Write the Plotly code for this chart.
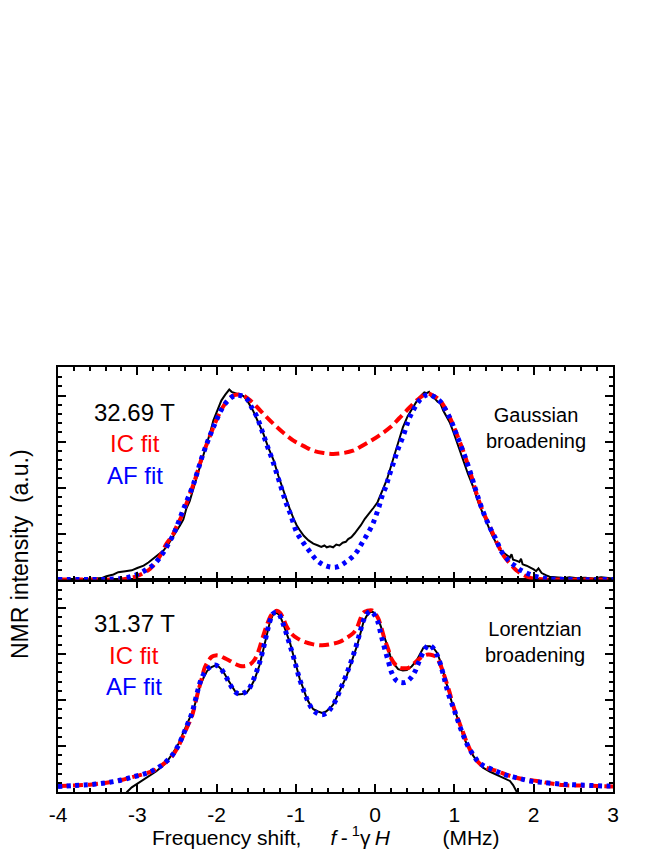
import plotly.graph_objects as go

# ---------------- data ----------------
# Top panel, 32.69 T (Gaussian broadening)
top_exp_x = [-4.00, -3.80, -3.60, -3.45, -3.39, -3.30, -3.24, -3.15, -3.07, -3.00, -2.92, -2.86, -2.80, -2.73,
             -2.67, -2.61, -2.55, -2.50, -2.46, -2.42, -2.38, -2.34, -2.29, -2.25, -2.21, -2.17, -2.12, -2.08,
             -2.04, -1.99, -1.94, -1.89, -1.86, -1.84, -1.81, -1.79, -1.74, -1.70, -1.66, -1.60, -1.54, -1.48,
             -1.41, -1.35, -1.28, -1.22, -1.16, -1.10, -1.07, -1.03, -0.99, -0.95, -0.90, -0.84, -0.78, -0.72,
             -0.68, -0.64, -0.61, -0.57, -0.53, -0.49, -0.45, -0.41, -0.37, -0.34, -0.30, -0.26, -0.23, -0.18,
             -0.13, -0.08, -0.02, 0.03, 0.06, 0.10, 0.15, 0.20, 0.25, 0.30, 0.35, 0.41, 0.48, 0.54, 0.59, 0.62,
             0.65, 0.68, 0.71, 0.75, 0.79, 0.82, 0.86, 0.90, 0.94, 0.98, 1.03, 1.07, 1.11, 1.17, 1.24, 1.30,
             1.36, 1.41, 1.47, 1.53, 1.58, 1.62, 1.66, 1.70, 1.72, 1.74, 1.78, 1.82, 1.84, 1.86, 1.91, 1.95,
             2.00, 2.03, 2.06, 2.10, 2.13, 2.16, 2.20, 2.25, 2.30, 2.38, 2.45, 2.55, 2.65, 2.75, 2.85, 2.95, 3.00]
top_exp_y = [0.00, 0.00, 0.01, 0.03, 0.07, 0.11, 0.16, 0.18, 0.20, 0.25, 0.30, 0.37, 0.45, 0.53,
             0.63, 0.76, 0.92, 1.07, 1.18, 1.30, 1.55, 1.70, 1.98, 2.20, 2.44, 2.68, 2.95, 3.20,
             3.46, 3.68, 3.89, 4.02, 4.08, 4.13, 4.08, 4.07, 4.04, 4.02, 3.99, 3.85, 3.67, 3.44,
             3.17, 2.88, 2.59, 2.25, 1.93, 1.64, 1.50, 1.33, 1.18, 1.07, 0.95, 0.85, 0.78, 0.74,
             0.71, 0.74, 0.70, 0.72, 0.70, 0.76, 0.74, 0.80, 0.82, 0.88, 0.92, 1.00, 1.06, 1.18,
             1.32, 1.42, 1.56, 1.68, 1.79, 1.97, 2.18, 2.45, 2.72, 3.00, 3.31, 3.55, 3.76, 3.92, 4.02, 4.07,
             4.05, 4.08, 3.98, 3.94, 3.86, 3.84, 3.67, 3.55, 3.42, 3.24, 2.98, 2.80, 2.59, 2.30, 2.00, 1.68,
             1.43, 1.21, 0.98, 0.78, 0.64, 0.58, 0.52, 0.48, 0.55, 0.43, 0.41, 0.38, 0.45, 0.33, 0.30, 0.27,
             0.22, 0.18, 0.24, 0.14, 0.11, 0.09, 0.06, 0.05, 0.04, 0.03, 0.05, 0.03, 0.04, 0.02, 0.05, 0.03, 0.02]

top_ic_x = [-4.00, -3.50, -3.22, -3.10, -3.01, -2.92, -2.84, -2.77, -2.71, -2.63, -2.55, -2.50, -2.44, -2.38,
            -2.29, -2.17, -2.10, -2.04, -1.98, -1.92, -1.85, -1.79, -1.72, -1.66, -1.58, -1.49, -1.38, -1.28,
            -1.15, -1.03, -0.90, -0.78, -0.65, -0.53, -0.40, -0.28, -0.19, -0.05, 0.05, 0.19, 0.30, 0.44,
            0.55, 0.65, 0.73, 0.82, 0.94, 1.02, 1.11, 1.20, 1.28, 1.36, 1.45, 1.53, 1.62, 1.70, 1.78, 1.86,
            1.95, 2.06, 2.20, 3.00]
top_ic_y = [0.00, 0.00, 0.00, 0.03, 0.07, 0.14, 0.23, 0.36, 0.52, 0.78, 0.98, 1.17, 1.38, 1.65,
            2.08, 2.73, 3.05, 3.31, 3.55, 3.75, 3.92, 4.00, 4.02, 4.00, 3.90, 3.75, 3.55, 3.38,
            3.18, 3.02, 2.90, 2.80, 2.75, 2.73, 2.75, 2.80, 2.88, 3.02, 3.13, 3.31, 3.50, 3.75,
            3.93, 4.04, 4.00, 3.89, 3.53, 3.20, 2.80, 2.33, 1.86, 1.48, 1.14, 0.82, 0.52, 0.35, 0.20, 0.11,
            0.04, 0.01, 0.00, 0.00]

top_af_x = [-4.00, -3.50, -3.28, -3.16, -3.03, -2.92, -2.79, -2.69, -2.62, -2.55, -2.50, -2.44, -2.39, -2.29,
            -2.17, -2.04, -1.92, -1.84, -1.77, -1.70, -1.62, -1.56, -1.49, -1.43, -1.37, -1.30, -1.24, -1.18,
            -1.12, -1.07, -0.99, -0.91, -0.83, -0.73, -0.61, -0.49, -0.37, -0.25, -0.17, -0.11, -0.04, 0.01,
            0.05, 0.09, 0.14, 0.17, 0.23, 0.29, 0.36, 0.42, 0.48, 0.54, 0.61, 0.67, 0.74, 0.82, 0.94, 1.02,
            1.11, 1.20, 1.28, 1.36, 1.45, 1.53, 1.59, 1.65, 1.70, 1.77, 1.83, 1.95, 2.06, 2.17, 2.40, 3.00]
top_af_y = [0.00, 0.00, 0.01, 0.03, 0.09, 0.18, 0.33, 0.54, 0.74, 0.96, 1.16, 1.43, 1.65, 2.08,
            2.73, 3.31, 3.75, 3.92, 4.00, 4.00, 3.93, 3.75, 3.53, 3.25, 2.95, 2.62, 2.30, 1.97,
            1.65, 1.43, 1.03, 0.81, 0.62, 0.41, 0.29, 0.27, 0.38, 0.56, 0.78, 0.95, 1.17, 1.39,
            1.59, 1.83, 2.04, 2.22, 2.53, 2.84, 3.15, 3.46, 3.68, 3.85, 3.98, 4.02, 3.98, 3.87, 3.52, 3.18,
            2.78, 2.33, 1.88, 1.48, 1.12, 0.85, 0.62, 0.48, 0.38, 0.29, 0.21, 0.11, 0.05, 0.02, 0.00, 0.00]

# Bottom panel, 31.37 T (Lorentzian broadening)
bot_exp_x = [-3.20, -3.13, -3.07, -3.01, -2.92, -2.84, -2.76, -2.67, -2.61, -2.55, -2.48, -2.42, -2.35, -2.29,
             -2.25, -2.21, -2.16, -2.12, -2.07, -2.02, -1.97, -1.92, -1.86, -1.81, -1.77, -1.73, -1.68, -1.62,
             -1.57, -1.52, -1.46, -1.41, -1.37, -1.33, -1.29, -1.26, -1.23, -1.20, -1.16, -1.12, -1.07, -1.03,
             -0.99, -0.95, -0.90, -0.86, -0.82, -0.78, -0.72, -0.67, -0.62, -0.57, -0.53, -0.49, -0.43, -0.36,
             -0.30, -0.23, -0.19, -0.15, -0.11, -0.07, -0.03, 0.02, 0.06, 0.10, 0.15, 0.19, 0.24, 0.29, 0.35,
             0.40, 0.46, 0.52, 0.57, 0.61, 0.65, 0.69, 0.74, 0.78, 0.82, 0.86, 0.90, 0.94, 0.98, 1.03, 1.07,
             1.11, 1.17, 1.24, 1.30, 1.36, 1.45, 1.53, 1.61, 1.70, 1.74, 1.78, 1.85]
bot_exp_y = [-0.15, 0.00, 0.10, 0.17, 0.26, 0.35, 0.45, 0.58, 0.70, 0.85, 1.05, 1.29, 1.55, 1.80,
             2.05, 2.30, 2.50, 2.63, 2.71, 2.75, 2.72, 2.63, 2.45, 2.30, 2.20, 2.12, 2.13, 2.16,
             2.28, 2.45, 2.75, 3.10, 3.40, 3.68, 3.85, 3.90, 3.88, 3.83, 3.66, 3.46, 3.22, 2.96,
             2.70, 2.45, 2.22, 2.02, 1.90, 1.80, 1.75, 1.72, 1.75, 1.82, 1.90, 2.05, 2.28, 2.52,
             2.82, 3.17, 3.42, 3.68, 3.82, 3.91, 3.92, 3.83, 3.66, 3.46, 3.20, 2.96, 2.78, 2.67, 2.64,
             2.65, 2.73, 2.85, 3.00, 3.14, 3.17, 3.17, 3.12, 3.03, 2.85, 2.59, 2.33, 2.09, 1.87, 1.65, 1.42,
             1.22, 0.99, 0.78, 0.64, 0.53, 0.44, 0.38, 0.31, 0.24, 0.15, 0.02, -0.15]

bot_ic_x = [-4.00, -3.81, -3.60, -3.39, -3.20, -3.05, -2.92, -2.80, -2.67, -2.60, -2.55, -2.48, -2.42, -2.36,
            -2.31, -2.27, -2.23, -2.19, -2.15, -2.10, -2.06, -2.01, -1.96, -1.90, -1.83, -1.76, -1.70, -1.64,
            -1.58, -1.52, -1.47, -1.42, -1.37, -1.32, -1.28, -1.24, -1.20, -1.16, -1.12, -1.06, -0.99, -0.90,
            -0.78, -0.67, -0.57, -0.44, -0.36, -0.28, -0.23, -0.19, -0.15, -0.10, -0.04, 0.00, 0.04, 0.08,
            0.12, 0.17, 0.21, 0.26, 0.31, 0.37, 0.42, 0.48, 0.54, 0.60, 0.67, 0.73, 0.78, 0.82, 0.86, 0.90,
            0.94, 0.98, 1.03, 1.07, 1.11, 1.17, 1.24, 1.30, 1.36, 1.45, 1.53, 1.65, 1.78, 1.90, 2.04, 2.20,
            2.37, 2.60, 2.80, 3.00]
bot_ic_y = [0.13, 0.14, 0.16, 0.20, 0.26, 0.33, 0.39, 0.46, 0.61, 0.70, 0.80, 1.00, 1.22, 1.45,
            1.65, 1.92, 2.20, 2.45, 2.70, 2.86, 2.94, 2.97, 2.96, 2.91, 2.85, 2.78, 2.74, 2.74,
            2.77, 2.88, 3.07, 3.35, 3.61, 3.82, 3.91, 3.94, 3.90, 3.78, 3.61, 3.45, 3.35, 3.27,
            3.21, 3.19, 3.21, 3.27, 3.35, 3.45, 3.57, 3.75, 3.90, 3.94, 3.95, 3.88, 3.77, 3.56,
            3.32, 3.08, 2.88, 2.76, 2.70, 2.69, 2.70, 2.78, 2.87, 2.95, 2.99, 2.97, 2.92, 2.78, 2.59, 2.38,
            2.16, 1.90, 1.65, 1.47, 1.29, 1.02, 0.78, 0.65, 0.56, 0.50, 0.46, 0.38, 0.31, 0.27, 0.24, 0.19,
            0.15, 0.14, 0.13, 0.12]

bot_af_x = [-4.00, -3.81, -3.60, -3.39, -3.20, -3.05, -2.92, -2.80, -2.67, -2.55, -2.48, -2.42, -2.36, -2.31,
            -2.27, -2.23, -2.19, -2.14, -2.08, -2.02, -1.97, -1.92, -1.86, -1.81, -1.76, -1.71, -1.65, -1.60,
            -1.55, -1.50, -1.46, -1.41, -1.37, -1.33, -1.29, -1.25, -1.21, -1.17, -1.13, -1.08, -1.03, -0.99,
            -0.95, -0.90, -0.85, -0.80, -0.74, -0.67, -0.61, -0.55, -0.49, -0.43, -0.37, -0.30, -0.24, -0.19,
            -0.15, -0.11, -0.06, -0.02, 0.03, 0.07, 0.12, 0.17, 0.21, 0.27, 0.33, 0.39, 0.45, 0.50, 0.55, 0.61,
            0.67, 0.72, 0.78, 0.82, 0.86, 0.90, 0.94, 0.99, 1.03, 1.07, 1.11, 1.17, 1.24, 1.30, 1.36, 1.45,
            1.53, 1.63, 1.74, 1.85, 1.95, 2.10, 2.37, 2.60, 2.92, 3.00]
bot_af_y = [0.12, 0.14, 0.16, 0.20, 0.26, 0.33, 0.39, 0.47, 0.61, 0.82, 1.02, 1.25, 1.50, 1.72,
            1.98, 2.25, 2.47, 2.62, 2.72, 2.76, 2.72, 2.62, 2.44, 2.28, 2.17, 2.13, 2.16, 2.22,
            2.38, 2.60, 2.80, 3.12, 3.42, 3.70, 3.87, 3.91, 3.86, 3.70, 3.50, 3.22, 2.94, 2.68,
            2.44, 2.20, 1.98, 1.82, 1.72, 1.68, 1.72, 1.84, 2.02, 2.27, 2.52, 2.85, 3.17, 3.48,
            3.72, 3.86, 3.93, 3.88, 3.72, 3.45, 3.12, 2.82, 2.59, 2.42, 2.38, 2.39, 2.48, 2.61, 2.82, 3.05,
            3.19, 3.15, 2.98, 2.80, 2.55, 2.28, 2.05, 1.82, 1.62, 1.42, 1.24, 1.00, 0.80, 0.66, 0.58, 0.51,
            0.45, 0.38, 0.33, 0.28, 0.24, 0.21, 0.17, 0.15, 0.13, 0.13]

x_ticks = [-4, -3, -2, -1, 0, 1, 2, 3]
x_tick_labels = ["-4", "-3", "-2", "-1", "0", "1", "2", "3"]
top_labels = ["32.69 T", "IC fit", "AF fit"]
bot_labels = ["31.37 T", "IC fit", "AF fit"]
top_note = "Gaussian<br>broadening"
bot_note = "Lorentzian<br>broadening"
NB = "\u00a0"
TH = "\u2009"
x_title = ("Frequency shift," + NB * 5 + "<i>f</i>" + TH + "-" + TH + "<sup>1</sup>\u03b3" + TH
           + "<i>H</i>" + NB * 9 + "(MHz)")
y_title = "NMR intensity" + NB * 2 + "(a.u.)"

# ---------------- styles ----------------
BLACK = "#000000"
RED = "#ff0000"
BLUE = "#0000ff"
FONT = "Liberation Sans, Arial, sans-serif"

exp_line = dict(color=BLACK, width=2)
ic_line = dict(color=RED, width=4, dash="10px,5px")
af_line = dict(color=BLUE, width=5, dash="4px,4.6px")

fig = go.Figure()

def add_panel(xa, ya, ex, ey, icx, icy, afx, afy):
    fig.add_trace(go.Scatter(x=ex, y=ey, mode="lines", line=exp_line, xaxis=xa, yaxis=ya,
                             showlegend=False, hoverinfo="skip"))
    fig.add_trace(go.Scatter(x=icx, y=icy, mode="lines", line=ic_line, xaxis=xa, yaxis=ya,
                             showlegend=False, hoverinfo="skip", line_shape="spline"))
    fig.add_trace(go.Scatter(x=afx, y=afy, mode="lines", line=af_line, xaxis=xa, yaxis=ya,
                             showlegend=False, hoverinfo="skip", line_shape="spline"))

add_panel("x2", "y2", top_exp_x, top_exp_y, top_ic_x, top_ic_y, top_af_x, top_af_y)
add_panel("x", "y", bot_exp_x, bot_exp_y, bot_ic_x, bot_ic_y, bot_af_x, bot_af_y)

xcommon = dict(range=[-4, 3], tickvals=x_ticks, ticktext=x_tick_labels, ticks="inside", ticklen=8,
               tickwidth=1.5, tickcolor=BLACK, showline=True, linewidth=2, linecolor=BLACK,
               mirror="allticks", showgrid=False, zeroline=False,
               minor=dict(ticks="inside", ticklen=4, tickwidth=1.5, tickcolor=BLACK, dtick=0.2, tick0=0,
                          showgrid=False))
ycommon = dict(range=[0, 4.62], tick0=0, dtick=1, ticks="inside", ticklen=8, tickwidth=1.5,
               tickcolor=BLACK, showline=True, linewidth=2, linecolor=BLACK, mirror="allticks",
               showgrid=False, zeroline=False, showticklabels=False,
               minor=dict(ticks="inside", ticklen=4, tickwidth=1.5, tickcolor=BLACK, dtick=0.2, tick0=0,
                          showgrid=False))

# the page body adds an 8 px offset, so margins are shifted accordingly
ML, MR, MT, MB = 50, 59, 359, 76
fig.update_layout(
    width=664, height=860,
    margin=dict(l=ML, r=MR, t=MT, b=MB),
    paper_bgcolor="white", plot_bgcolor="white",
    font=dict(family=FONT, color=BLACK, size=21),
    xaxis=dict(**xcommon, anchor="y", domain=[0, 1], showticklabels=True, ticklabelstandoff=3,
               tickfont=dict(size=21, family=FONT)),
    yaxis=dict(**ycommon, anchor="x", domain=[0, 0.5]),
    xaxis2=dict(**xcommon, anchor="y2", domain=[0, 1], showticklabels=False, matches="x"),
    yaxis2=dict(**ycommon, anchor="x2", domain=[0.5, 1]),
)

ann = []
top_y = [3.63, 2.96, 2.26]
bot_y = [3.67, 2.96, 2.30]
colors = [BLACK, RED, BLUE]
for txt, yv, c in zip(top_labels, top_y, colors):
    ann.append(dict(text=txt, x=-3.03, y=yv, xref="x2", yref="y2", showarrow=False,
                    font=dict(size=24, color=c, family=FONT)))
for txt, yv, c in zip(bot_labels, bot_y, colors):
    ann.append(dict(text=txt, x=-3.04, y=yv, xref="x", yref="y", showarrow=False,
                    font=dict(size=24, color=c, family=FONT)))
ann.append(dict(text=top_note, x=2.03, y=3.30, xref="x2", yref="y2", showarrow=False,
                font=dict(size=20, color=BLACK, family=FONT)))
ann.append(dict(text=bot_note, x=2.01, y=3.27, xref="x", yref="y", showarrow=False,
                font=dict(size=20, color=BLACK, family=FONT)))

plot_w = 664 - ML - MR
plot_h = 860 - MT - MB
# x-axis title: left edge at page pixel 150, vertical centre at page pixel 836
ann.append(dict(text=x_title,
                x=(150 - 8 - ML) / plot_w, y=(860 - MB - (836 - 8)) / plot_h,
                xref="paper", yref="paper", xanchor="left", yanchor="middle",
                showarrow=False, font=dict(size=21, color=BLACK, family=FONT)))
# y-axis title: centred at page pixel (20, 554); page = figure + 8 px
ann.append(dict(text=y_title,
                x=(20 - 8 - ML) / plot_w, y=(860 - MB - (554 - 8)) / plot_h,
                xref="paper", yref="paper", xanchor="center", yanchor="middle",
                showarrow=False, textangle=-90, font=dict(size=23, color=BLACK, family=FONT)))
fig.update_layout(annotations=ann)

fig.write_html("out.html")
